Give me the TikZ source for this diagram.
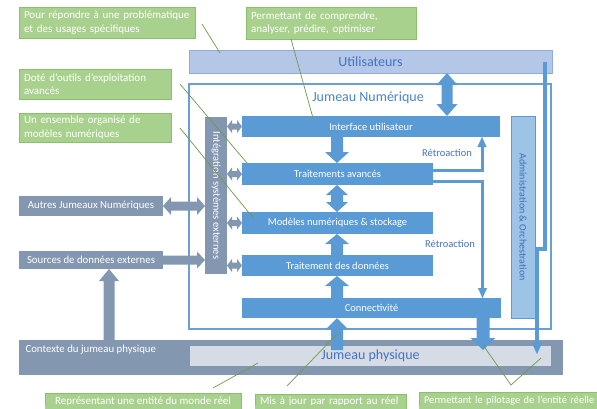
\documentclass[tikz,border=0pt]{standalone}
\usepackage{fontspec}
\setmainfont{Carlito}
\usetikzlibrary{calc,arrows.meta}
\definecolor{bfill}{HTML}{5B9BD5}
\definecolor{gfill}{HTML}{8497B0}
\definecolor{ufill}{HTML}{B4C7E7}
\definecolor{uline}{HTML}{8FAADC}
\definecolor{utext}{HTML}{4472C4}
\definecolor{jtext}{HTML}{4A86C8}
\definecolor{jpfill}{HTML}{D6DCE5}
\definecolor{afill}{HTML}{9DC3E6}
\definecolor{atext}{HTML}{3E6DB5}
\definecolor{cfill}{HTML}{A9D18E}
\definecolor{cline}{HTML}{8CBF6A}
\definecolor{lgreen}{HTML}{6E9A4A}
\definecolor{frameblue}{HTML}{6A9FD8}

\newcommand{\blockarrow}[6]{%
  \coordinate (baT) at #2;
  \coordinate (baP) at #3;
  \coordinate (baH) at ($(baP)!#6!(baT)$);
  \fill[#1] ($(baT)!#4!90:(baP)$) -- ($(baH)!#4!90:(baP)$) -- ($(baH)!#5!90:(baP)$) -- (baP)
    -- ($(baH)!#5!-90:(baP)$) -- ($(baH)!#4!-90:(baP)$) -- ($(baT)!#4!-90:(baP)$) -- cycle;
}
\newcommand{\dblarrow}[6]{%
  \coordinate (daA) at #2;
  \coordinate (daB) at #3;
  \coordinate (daH) at ($(daA)!#6!(daB)$);
  \coordinate (daK) at ($(daB)!#6!(daA)$);
  \fill[#1] (daA) -- ($(daH)!#5!90:(daB)$) -- ($(daH)!#4!90:(daB)$) -- ($(daK)!#4!-90:(daA)$)
    -- ($(daK)!#5!-90:(daA)$) -- (daB) -- ($(daK)!#5!90:(daA)$) -- ($(daK)!#4!90:(daA)$)
    -- ($(daH)!#4!-90:(daB)$) -- ($(daH)!#5!-90:(daB)$) -- cycle;
}

\tikzset{
  base/.style={inner sep=0pt, outer sep=0pt, anchor=north west},
  callout/.style={base, fill=cfill, draw=cline, line width=0.8pt, text=white,
    font=\fontsize{11}{13.5}\selectfont, align=left, inner xsep=5pt},
  bluebox/.style={base, fill=bfill, text=white, font=\fontsize{10.5}{12}\selectfont},
  graybox/.style={base, fill=gfill, text=white, font=\fontsize{10.8}{12}\selectfont},
  bigtext/.style={font=\fontsize{14}{16}\selectfont},
  fb/.style={draw=bfill, line width=3pt, -{Triangle[width=9pt,length=10pt,line width=0.1pt]}},
  glink/.style={draw=lgreen, line width=0.7pt},
}

\begin{document}
\begin{tikzpicture}[x=1pt,y=-1pt]
\useasboundingbox (0,0) rectangle (597,408);
\fill[white] (0,0) rectangle (597,408);

% frame and bars
\node[base, draw=frameblue, line width=1.2pt, fill=white, minimum width=362pt, minimum height=245pt] (jn) at (189,84) {};
\node[text=jtext, bigtext] (jnt) at (368,98) {Jumeau Numérique};
\node[base, fill=ufill, draw=uline, line width=1pt, minimum width=363pt, minimum height=23pt, text=utext, bigtext] (ut) at (189,50) {Utilisateurs};

\node[base, fill=gfill, minimum width=544pt, minimum height=35pt] (ctx) at (19,340) {};
\node[anchor=west, text=white, font=\fontsize{10.8}{12}\selectfont] (ctxt) at (22,350) {Contexte du jumeau physique};
\node[base, fill=jpfill, minimum width=361pt, minimum height=20pt, text=utext, bigtext] (jp) at (190,346) {Jumeau physique};

% blue boxes
\node[bluebox, minimum width=258pt, minimum height=21pt] (ui) at (242,116) {Interface utilisateur};
\node[bluebox, minimum width=191pt, minimum height=22pt] (ta) at (242,163) {Traitements avancés};
\node[bluebox, minimum width=191pt, minimum height=22pt] (mn) at (242,212) {Modèles numériques \& stockage};
\node[bluebox, minimum width=191pt, minimum height=21pt] (td) at (242,255) {Traitement des données};
\node[bluebox, minimum width=259pt, minimum height=20pt] (cn) at (242,298) {Connectivité};

% side boxes
\node[graybox, minimum width=22pt, minimum height=157pt] (ise) at (205,117) {};
\node[rotate=-90, text=white, font=\fontsize{10.5}{12}\selectfont] (iset) at (ise.center) {Intégration systèmes externes};
\node[base, fill=afill, draw=bfill, line width=0.8pt, minimum width=24pt, minimum height=202pt] (adm) at (511,116) {};
\node[rotate=-90, text=atext, font=\fontsize{10}{12}\selectfont] (admt) at (adm.center) {Administration \& Orchestration};
\node[graybox, minimum width=144pt, minimum height=20pt] (aj) at (19,196) {Autres Jumeaux Numériques};
\node[graybox, minimum width=144pt, minimum height=18pt] (sd) at (19,251) {Sources de données externes};

% block arrows
\coordinate (xa) at (447,0);
\coordinate (xm) at (337,0);
\coordinate (xp) at (483,0);
\coordinate (xs) at (109,0);
\dblarrow{bfill}{(ut.south -| xa)}{(ui.north -| xa)}{5.5pt}{10.5pt}{12pt}
\blockarrow{bfill}{(ui.south -| xm)}{(ta.north -| xm)}{6pt}{12pt}{11pt}
\dblarrow{bfill}{(ta.south -| xm)}{(mn.north -| xm)}{6pt}{11pt}{10pt}
\blockarrow{bfill}{(td.north -| xm)}{(mn.south -| xm)}{6pt}{12pt}{10pt}
\blockarrow{bfill}{(cn.north -| xm)}{(td.south -| xm)}{6pt}{12pt}{10pt}
\blockarrow{bfill}{($(jp.north -| xm)+(0,4)$)}{(cn.south -| xm)}{6pt}{11pt}{11pt}
\blockarrow{bfill}{(cn.south -| xp)}{($(jp.north -| xp)+(0,4)$)}{6.5pt}{12.5pt}{12pt}

\dblarrow{gfill}{(ise.east |- ui.west)}{(ui.west)}{3pt}{6.5pt}{5pt}
\dblarrow{gfill}{(ise.east |- ta.west)}{(ta.west)}{3pt}{6.5pt}{5pt}
\dblarrow{gfill}{(ise.east |- mn.west)}{(mn.west)}{3pt}{6.5pt}{5pt}
\dblarrow{gfill}{(ise.east |- td.west)}{(td.west)}{3pt}{6.5pt}{5pt}
\dblarrow{gfill}{(aj.east)}{(ise.west |- aj.east)}{4.5pt}{9pt}{8pt}
\blockarrow{gfill}{(sd.east)}{(ise.west |- sd.east)}{4.5pt}{8.5pt}{8pt}
\blockarrow{gfill}{(ctx.north -| xs)}{(sd.south -| xs)}{5.5pt}{10pt}{12pt}

% feedback lines
\draw[fb] ($(ta.east)+(0,-4)$) -| ($(ui.south)+(111,0)$);
\draw[fb] ($(ta.east)+(0,7)$) -| ($(cn.north)+(111,0)$);
\node[text=utext, font=\fontsize{10.5}{12}\selectfont] (rt1) at (447,153) {Rétroaction};
\node[text=utext, font=\fontsize{10.5}{12}\selectfont] (rt2) at (450,244) {Rétroaction};

% right line
\coordinate (rl1) at (545,62);
\coordinate (rl2) at (545,249);
\coordinate (rl3) at (537,249);
\coordinate (rl4) at (537,354);
\draw[draw=bfill, line width=3.5pt, -{Triangle[width=10pt,length=11pt,line width=0.1pt]}] (rl1) -- (rl2) -- (rl3) -- (rl4);

% callouts
\node[callout, text width=166pt, minimum height=31pt] (c1) at (19,7) {Pour répondre à une problématique\\et des usages spécifiques};
\node[callout, text width=160pt, minimum height=32pt] (c2) at (246,7) {Permettant de comprendre,\\analyser, prédire, optimiser};
\node[callout, text width=142pt, minimum height=30pt] (c3) at (19,69) {Doté d’outils d’exploitation\\avancés};
\node[callout, text width=142pt, minimum height=29pt] (c4) at (19,113) {Un ensemble organisé de\\modèles numériques};
\node[callout, align=center, minimum width=196pt, minimum height=17pt] (c5) at (45,393) {Représentant une entité du monde réel};
\node[callout, text width=141pt, minimum height=16pt] (c6) at (255,394) {Mis à jour par rapport au réel};
\node[callout, text width=200pt, minimum height=18pt, font=\fontsize{10.4}{12}\selectfont] (c7) at (419,392) {Permettant le pilotage de l’entité réelle};
\fill[cfill] (45.4,405) rectangle (240.6,409);
\fill[cfill] (255.4,405) rectangle (405.6,409);
\fill[cfill] (419.4,405) rectangle (598,409);

% green links
\coordinate (g1a) at (202,24); \coordinate (g1b) at (220,53);
\coordinate (g2a) at (291,39); \coordinate (g2b) at (313,118);
\coordinate (g3a) at (180,84); \coordinate (g3b) at (247,163);
\coordinate (g4a) at (180,128); \coordinate (g4b) at (254,219);
\coordinate (g5a) at (213,388); \coordinate (g5b) at (258,363);
\coordinate (g6a) at (287,386); \coordinate (g6b) at (337,334);
\coordinate (g7a) at (483,345); \coordinate (g7b) at (511,385); \coordinate (g7c) at (541,358);
\draw[glink] (g1a) -- (g1b);
\draw[glink] (g2a) -- (g2b);
\draw[glink] (g3a) -- (g3b);
\draw[glink] (g4a) -- (g4b);
\draw[glink] (g5a) -- (g5b);
\draw[glink] (g6a) -- (g6b);
\draw[glink] (g7a) -- (g7b) -- (g7c);
\end{tikzpicture}
\end{document}
